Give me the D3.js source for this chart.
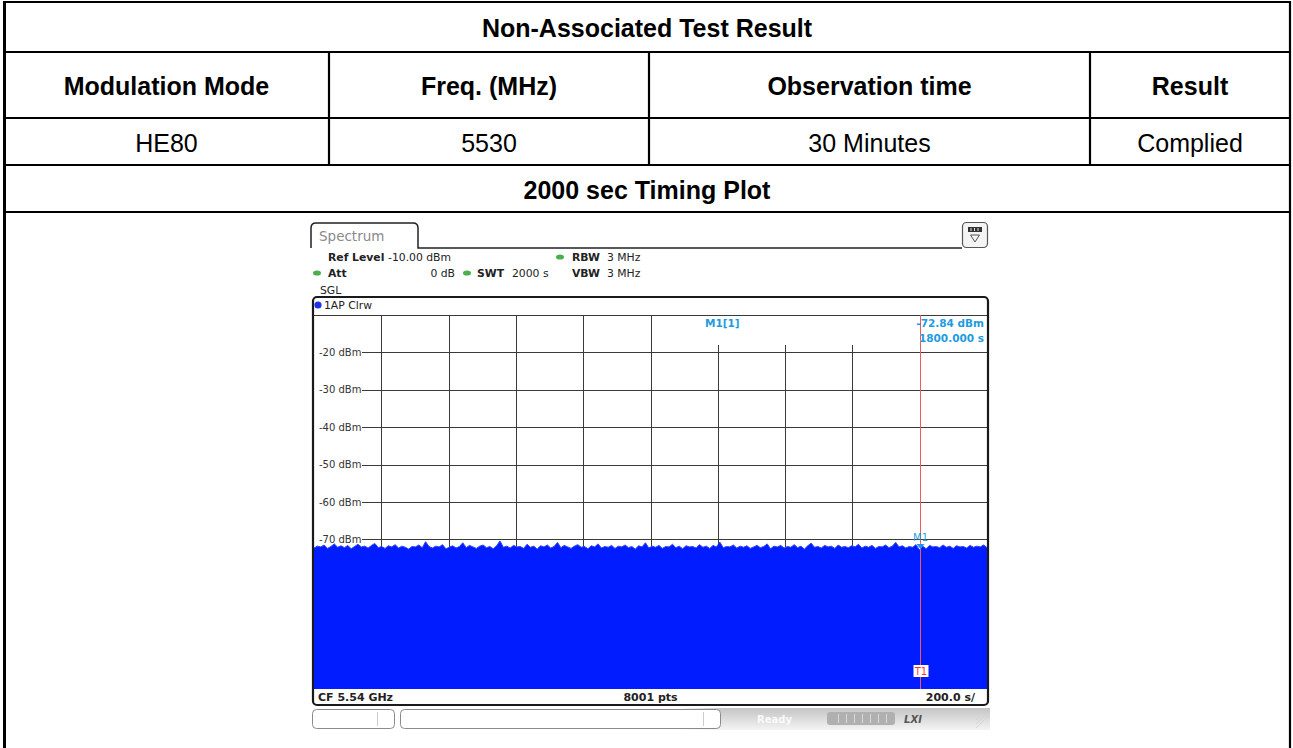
<!DOCTYPE html>
<html><head><meta charset="utf-8">
<script src="https://cdn.jsdelivr.net/npm/d3@7"></script>
<style>html,body{margin:0;padding:0;background:#fff;}svg{display:block;}</style>
</head><body><svg id="c" width="1293" height="748"></svg>
<script>
// ---------- data ----------
const tableTitle = "Non-Associated Test Result";
const headers = ["Modulation Mode", "Freq. (MHz)", "Observation time", "Result"];
const rowValues = ["HE80", "5530", "30 Minutes", "Complied"];
const plotTitle = "2000 sec Timing Plot";

const refLevel = -10;
const bottomLevel = -110;
const sweepTime = 2000;
const yGridLevels = [-10, -20, -30, -40, -50, -60, -70, -80, -90, -100];
const yTickValues = [-20, -30, -40, -50, -60, -70];
const yTickLabels = ["-20 dBm", "-30 dBm", "-40 dBm", "-50 dBm", "-60 dBm", "-70 dBm"];
const xGridValues = [200, 400, 600, 800, 1000, 1200, 1400, 1600, 1800];
const markerTime = 1800;
const markerLevel = -72.84;
const markerLabels = ["M1[1]", "-72.84 dBm", "1800.000 s"];
const footerLabels = ["CF 5.54 GHz", "8001 pts", "200.0 s/"];
const settingsRow1 = ["Ref Level", "-10.00 dBm", "RBW", "3 MHz"];
const settingsRow2 = ["Att", "0 dB", "SWT", "2000 s", "VBW", "3 MHz"];
const traceLabel = "1AP Clrw";

const noiseTrace = [
-72.3,-71.8,-72.0,-71.5,-72.4,-71.9,-71.2,-72.1,-71.7,-72.2,
-71.6,-72.5,-71.9,-71.3,-72.0,-71.8,-72.3,-71.6,-71.1,-72.2,
-71.9,-72.4,-71.7,-72.0,-71.4,-72.3,-71.8,-72.1,-72.6,-71.9,
-72.0,-71.5,-72.2,-70.6,-71.9,-72.3,-71.8,-72.0,-71.4,-72.5,
-72.1,-71.7,-72.3,-71.9,-70.9,-72.2,-71.6,-72.0,-72.4,-71.8,
-71.5,-72.2,-71.9,-72.5,-71.7,-70.4,-72.1,-71.8,-72.3,-71.6,
-72.0,-71.9,-72.4,-71.3,-72.1,-71.8,-72.6,-71.7,-72.0,-71.5,
-72.3,-71.9,-70.8,-72.2,-71.6,-72.0,-72.4,-71.8,-71.4,-72.1,
-71.9,-72.5,-71.7,-72.0,-71.2,-72.3,-71.9,-72.1,-71.6,-72.4,
-71.8,-72.0,-71.5,-72.2,-71.9,-72.6,-71.7,-72.0,-70.9,-72.3,
-71.8,-72.1,-71.6,-72.4,-71.9,-72.0,-71.3,-72.2,-71.8,-72.5,
-71.7,-72.0,-71.9,-72.3,-71.4,-72.1,-71.8,-72.4,-71.6,-72.0,
-70.7,-72.2,-71.9,-72.0,-71.5,-72.3,-71.8,-72.1,-71.7,-72.4,
-72.0,-71.6,-72.2,-71.9,-71.2,-72.5,-71.8,-72.0,-71.6,-72.3,
-71.9,-72.1,-71.4,-72.2,-71.8,-72.6,-71.7,-71.0,-72.1,-71.9,
-72.3,-71.6,-72.0,-71.8,-72.4,-71.5,-72.1,-71.9,-72.2,-71.7,
-72.0,-71.3,-72.3,-71.8,-72.1,-71.6,-72.4,-71.9,-72.0,-71.5,
-72.2,-71.8,-70.8,-72.0,-71.7,-72.3,-71.9,-72.1,-71.4,-72.8,
-71.8,-72.5,-71.6,-72.0,-71.9,-72.2,-71.5,-72.1,-71.8,-72.4,
-71.7,-72.0,-71.9,-72.3,-71.6,-72.1,-71.8,-72.0,-71.5,-72.2
];

// ---------- drawing ----------
const svg = d3.select("#c");
const FT = "'Liberation Sans', Arial, sans-serif";
const FS = "'DejaVu Sans', Verdana, sans-serif";
const TS = 25;

// table geometry
const colX = [4, 329, 649, 1090, 1290];
const rowY = [2, 52, 118, 165, 212];
const tbl = svg.append("g");
rowY.forEach(yy => tbl.append("line").attr("x1", 3).attr("x2", 1291).attr("y1", yy).attr("y2", yy)
  .attr("stroke", "#000").attr("stroke-width", 2.2));
tbl.append("line").attr("x1", 4.5).attr("x2", 4.5).attr("y1", 1).attr("y2", 748).attr("stroke", "#000").attr("stroke-width", 3);
tbl.append("line").attr("x1", 1290).attr("x2", 1290).attr("y1", 1).attr("y2", 748).attr("stroke", "#000").attr("stroke-width", 2.2);
[1, 2, 3].forEach(i => tbl.append("line").attr("x1", colX[i]).attr("x2", colX[i]).attr("y1", rowY[1]).attr("y2", rowY[3])
  .attr("stroke", "#000").attr("stroke-width", 2.2));

const cx = i => (colX[i] + colX[i + 1]) / 2;
tbl.append("text").attr("x", 647).attr("y", (rowY[0] + rowY[1]) / 2 + 1).text(tableTitle)
  .attr("font-family", FT).attr("font-weight", "bold").attr("font-size", TS).attr("text-anchor", "middle").attr("dominant-baseline", "central");
headers.forEach((h, i) => tbl.append("text").attr("x", cx(i)).attr("y", (rowY[1] + rowY[2]) / 2 + 1).text(h)
  .attr("font-family", FT).attr("font-weight", "bold").attr("font-size", TS).attr("text-anchor", "middle").attr("dominant-baseline", "central"));
rowValues.forEach((h, i) => tbl.append("text").attr("x", cx(i)).attr("y", (rowY[2] + rowY[3]) / 2 + 1).text(h)
  .attr("font-family", FT).attr("font-size", TS).attr("text-anchor", "middle").attr("dominant-baseline", "central"));
tbl.append("text").attr("x", 647).attr("y", (rowY[3] + rowY[4]) / 2 + 1).text(plotTitle)
  .attr("font-family", FT).attr("font-weight", "bold").attr("font-size", TS).attr("text-anchor", "middle").attr("dominant-baseline", "central");

// ---------- spectrum screenshot ----------
const sp = svg.append("g");
// tab
sp.append("path").attr("d", "M311,248 L311,228 Q311,223 316,223 L413,223 Q418,223 418,228 L418,248 L962,248")
  .attr("fill", "none").attr("stroke", "#222").attr("stroke-width", 1.5);
sp.append("text").attr("x", 319).attr("y", 236).text("Spectrum").attr("font-family", FS).attr("font-size", 13.5)
  .attr("fill", "#8a8a8a").attr("dominant-baseline", "central");
// top-right icon
sp.append("rect").attr("x", 962.5).attr("y", 222.5).attr("width", 25).attr("height", 25).attr("rx", 4)
  .attr("fill", "#f4f4f4").attr("stroke", "#555").attr("stroke-width", 1.2);
sp.append("rect").attr("x", 968).attr("y", 227).attr("width", 14).attr("height", 5).attr("fill", "#333");
[971, 974.5, 978].forEach(xx => sp.append("line").attr("x1", xx).attr("x2", xx).attr("y1", 228).attr("y2", 231).attr("stroke", "#ddd").attr("stroke-width", 1));
sp.append("path").attr("d", "M970.5,235 L979.5,235 L975,242 Z").attr("fill", "none").attr("stroke", "#555").attr("stroke-width", 1);

// settings rows
const sText = (xx, yy, t, bold, anchor) => sp.append("text").attr("x", xx).attr("y", yy).text(t)
  .attr("font-family", FS).attr("font-size", 10.8).attr("font-weight", bold ? "bold" : "normal")
  .attr("fill", "#222").attr("text-anchor", anchor || "start").attr("dominant-baseline", "central");
const gDot = (xx, yy) => sp.append("ellipse").attr("cx", xx).attr("cy", yy).attr("rx", 4).attr("ry", 2.6).attr("fill", "#4cae4c");
sText(328, 257, settingsRow1[0], true);
sText(388, 257, settingsRow1[1], false);
gDot(560, 257);
sText(572, 257, settingsRow1[2], true);
sText(607, 257, settingsRow1[3], false);
gDot(317, 273);
sText(328, 273, settingsRow2[0], true);
sText(455, 273, settingsRow2[1], false, "end");
gDot(467, 273);
sText(477, 273, settingsRow2[2], true);
sText(512, 273, settingsRow2[3], false);
sText(572, 273, settingsRow2[4], true);
sText(607, 273, settingsRow2[5], false);
sText(320, 290, "SGL", false);

// trace box
sp.append("rect").attr("x", 313).attr("y", 297).attr("width", 675).attr("height", 408).attr("rx", 4)
  .attr("fill", "#fff").attr("stroke", "#1a1a1a").attr("stroke-width", 2.2);
sp.append("circle").attr("cx", 318).attr("cy", 305).attr("r", 3.6).attr("fill", "#1b32e8");
sText(324, 305, traceLabel, false);

const x = d3.scaleLinear().domain([0, sweepTime]).range([314, 987]);
const y = d3.scaleLinear().domain([refLevel, bottomLevel]).range([315, 689]);

// grid
const grid = sp.append("g").attr("stroke", "#3a3a3a").attr("stroke-width", 1).attr("shape-rendering", "crispEdges");
yGridLevels.forEach(v => grid.append("line").attr("x1", v === refLevel ? x(0) : 362).attr("x2", x(sweepTime))
  .attr("y1", Math.round(y(v)) + 0.5).attr("y2", Math.round(y(v)) + 0.5));
xGridValues.forEach(t => grid.append("line").attr("x1", Math.round(x(t)) + 0.5).attr("x2", Math.round(x(t)) + 0.5)
  .attr("y1", y(refLevel)).attr("y2", y(bottomLevel)));
// marker info area
sp.append("rect").attr("x", 653).attr("y", y(refLevel) + 1).attr("width", 333).attr("height", 29).attr("fill", "#fff");

// trace
const tIdx = d3.scaleLinear().domain([0, noiseTrace.length - 1]).range([0, sweepTime]);
const area = d3.area().x((d, i) => x(tIdx(i))).y0(y(bottomLevel)).y1(d => y(d));
sp.append("path").datum(noiseTrace).attr("d", area).attr("fill", "#001cff");
const line = d3.line().x((d, i) => x(tIdx(i))).y(d => y(d));
sp.append("path").datum(noiseTrace).attr("d", line).attr("fill", "none").attr("stroke", "#2a48ff").attr("stroke-width", 1);

// y labels
yTickValues.forEach((v, i) => sp.append("text").attr("x", 319).attr("y", y(v)).text(yTickLabels[i])
  .attr("font-family", FS).attr("font-size", 10).attr("fill", "#333").attr("dominant-baseline", "central"));

// marker
const mx = Math.round(x(markerTime)) + 0.5;
sp.append("line").attr("x1", mx).attr("x2", mx).attr("y1", y(refLevel)).attr("y2", y(bottomLevel))
  .attr("stroke", "#f05a5a").attr("stroke-width", 1);
const my = y(markerLevel);
sp.append("path").attr("d", `M${mx - 4},${my - 6} L${mx + 4},${my - 6} L${mx},${my - 1} Z`).attr("fill", "#1e90ff");
sp.append("text").attr("x", mx).attr("y", my - 13).text("M1").attr("font-family", FS).attr("font-size", 10)
  .attr("fill", "#2aa0e6").attr("text-anchor", "middle").attr("dominant-baseline", "central");
sp.append("rect").attr("x", mx - 7).attr("y", 665).attr("width", 15).attr("height", 12).attr("fill", "#fff");
sp.append("text").attr("x", mx + 0.5).attr("y", 671).text("T1").attr("font-family", FS).attr("font-size", 10)
  .attr("fill", "#ff3030").attr("text-anchor", "middle").attr("dominant-baseline", "central");
const mText = (xx, yy, t, anchor) => sp.append("text").attr("x", xx).attr("y", yy).text(t)
  .attr("font-family", FS).attr("font-size", 10.5).attr("font-weight", "bold").attr("fill", "#1e9be0")
  .attr("text-anchor", anchor).attr("dominant-baseline", "central");
mText(705, 323, markerLabels[0], "start");
mText(984, 323, markerLabels[1], "end");
mText(984, 338, markerLabels[2], "end");

// footer
const fText = (xx, t, anchor) => sp.append("text").attr("x", xx).attr("y", 697.5).text(t)
  .attr("font-family", FS).attr("font-size", 11).attr("font-weight", "bold").attr("fill", "#222")
  .attr("text-anchor", anchor).attr("dominant-baseline", "central");
fText(318, footerLabels[0], "start");
fText(x(sweepTime / 2), footerLabels[1], "middle");
fText(975, footerLabels[2], "end");

// status bar
const defs = svg.append("defs");
const lg = defs.append("linearGradient").attr("id", "sb").attr("x1", 0).attr("x2", 0).attr("y1", 0).attr("y2", 1);
lg.append("stop").attr("offset", "0%").attr("stop-color", "#c4c4c4");
lg.append("stop").attr("offset", "100%").attr("stop-color", "#f4f4f4");
const lg2 = defs.append("linearGradient").attr("id", "fade").attr("x1", 0).attr("x2", 1).attr("y1", 0).attr("y2", 0);
lg2.append("stop").attr("offset", "0%").attr("stop-color", "#fff").attr("stop-opacity", 1);
lg2.append("stop").attr("offset", "100%").attr("stop-color", "#fff").attr("stop-opacity", 0);
sp.append("rect").attr("x", 680).attr("y", 708).attr("width", 310).attr("height", 22).attr("fill", "url(#sb)");
sp.append("rect").attr("x", 680).attr("y", 708).attr("width", 40).attr("height", 22).attr("fill", "url(#fade)");
sp.append("rect").attr("x", 312.5).attr("y", 709.5).attr("width", 82).attr("height", 19).attr("rx", 4)
  .attr("fill", "#fff").attr("stroke", "#8a8a8a");
sp.append("line").attr("x1", 377.5).attr("x2", 377.5).attr("y1", 712).attr("y2", 726).attr("stroke", "#ccc");
sp.append("rect").attr("x", 400.5).attr("y", 709.5).attr("width", 320).attr("height", 19).attr("rx", 4)
  .attr("fill", "#fff").attr("stroke", "#8a8a8a");
sp.append("line").attr("x1", 703.5).attr("x2", 703.5).attr("y1", 712).attr("y2", 726).attr("stroke", "#ccc");
sp.append("text").attr("x", 757).attr("y", 719).text("Ready").attr("font-family", FS).attr("font-size", 10)
  .attr("font-weight", "bold").attr("fill", "#fafafa").attr("dominant-baseline", "central");
sp.append("rect").attr("x", 827).attr("y", 712).attr("width", 68).attr("height", 13).attr("rx", 3).attr("fill", "#b0b0b0");
[838, 846, 854, 862, 870, 878, 886].forEach(xx => sp.append("line").attr("x1", xx + 0.5).attr("x2", xx + 0.5)
  .attr("y1", 714).attr("y2", 723).attr("stroke", "#d8d8d8"));
sp.append("text").attr("x", 913).attr("y", 719).text("LXI").attr("font-family", FS).attr("font-size", 10)
  .attr("font-weight", "bold").attr("font-style", "italic").attr("fill", "#555").attr("text-anchor", "middle").attr("dominant-baseline", "central");
[0, 4, 8, 12].forEach(o => sp.append("line").attr("x1", 990 - o).attr("y1", 714).attr("x2", 976).attr("y2", 728 - o)
  .attr("stroke", "#d4d4d4").attr("stroke-width", 1));
</script></body></html>
